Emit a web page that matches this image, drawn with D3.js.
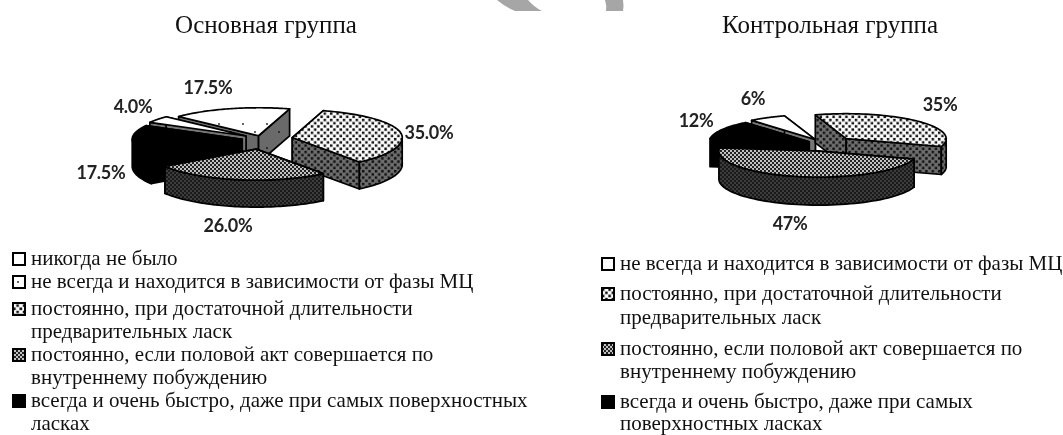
<!DOCTYPE html>
<html><head><meta charset="utf-8">
<script src="https://cdn.jsdelivr.net/npm/d3@7"></script>
<style>
html,body{margin:0;padding:0;background:#fff}
svg{display:block;filter:blur(0.45px)}
.title{font-family:"Liberation Serif",serif;font-size:25px;text-anchor:middle;fill:#111}
.leg{font-family:"Liberation Serif",serif;font-size:21px;fill:#111}
.lab{font-family:Lato,"Open Sans",sans-serif;font-weight:700;font-size:18px;letter-spacing:-0.3px;text-anchor:middle;fill:#222}
</style></head><body>
<svg id="c" width="1063" height="435"></svg>
<script>
const mainValues = [4, 17.5, 35, 26, 17.5];
const mainLabels = ["4.0%", "17.5%", "35.0%", "26.0%", "17.5%"];
const mainStyles = ["plain", "sparse", "dense", "lattice", "solid"];
const mainExplode = [0.18, 0.12, 0.28, 0.33, 0.18];
const controlValues = [6, 35, 47, 12];
const controlLabels = ["6%", "35%", "47%", "12%"];
const controlStyles = ["plain", "dense", "lattice", "solid"];
const controlExplode = [0.2, 0.3, 0.28, 0.18];
const mainLegend = [
  [["никогда не было"], "plain"],
  [["не всегда и находится в зависимости от фазы МЦ"], "sparse"],
  [["постоянно, при достаточной длительности", "предварительных ласк"], "dense"],
  [["постоянно, если половой акт совершается по", "внутреннему побуждению"], "lattice"],
  [["всегда и очень быстро, даже при самых поверхностных", "ласках"], "solid"]
];
const controlLegend = [
  [["не всегда и находится в зависимости от фазы МЦ"], "sparse"],
  [["постоянно, при достаточной длительности", "предварительных ласк"], "dense"],
  [["постоянно, если половой акт совершается по", "внутреннему побуждению"], "lattice"],
  [["всегда и очень быстро, даже при самых", "поверхностных ласках"], "solid"]
];

const svg = d3.select("#c");
const defs = svg.append("defs");
function pat(id, size, bg, fg, pts, r) {
  const p = defs.append("pattern").attr("id", id).attr("patternUnits", "userSpaceOnUse")
    .attr("width", size).attr("height", size);
  p.append("rect").attr("width", size).attr("height", size).attr("fill", bg);
  pts.forEach(d => p.append("rect").attr("x", d[0] - r).attr("y", d[1] - r)
    .attr("width", 2 * r).attr("height", 2 * r).attr("fill", fg));
}
pat("sparse-top", 24, "#fff", "#111", [[3,4],[15,12]], 0.8);
pat("sparse-side", 24, "#6a6a6a", "#111", [[3,4],[15,12]], 0.8);
pat("dense-top", 6.4, "#fff", "#111", [[1.6,1.6],[4.8,4.8]], 1.25);
pat("dense-side", 6.4, "#6e6e6e", "#111", [[1.6,1.6],[4.8,4.8]], 1.25);
pat("lattice-top", 4, "#222", "#fff", [[1,1],[3,3]], 0.85);
pat("lattice-side", 4, "#1a1a1a", "#777", [[1,1],[3,3]], 0.6);
pat("sw-sparse", 12, "#fff", "#111", [[6,6]], 0.8);
pat("sw-dense", 6.4, "#fff", "#111", [[1.6,1.6],[4.8,4.8]], 1.3);
const fills = {
  plain: ["#fff", "#777"],
  sparse: ["url(#sparse-top)", "url(#sparse-side)"],
  dense: ["url(#dense-top)", "url(#dense-side)"],
  lattice: ["url(#lattice-top)", "url(#lattice-side)"],
  solid: ["#000", "#000"]
};
const line = d3.line();

function drawPie(o) {
  const x = d3.scaleLinear().domain([-1, 1]).range([o.cx - o.rx, o.cx + o.rx]);
  // foreshortening: the far half of the tilted disc is flatter than the near half
  const y = d3.scaleLinear().domain([-1, 0, 1]).range([o.cy + o.ryFront, o.cy, o.cy - o.ryBack]);
  const start = o.start * Math.PI / 180;
  const arcs = d3.pie().sort(null).startAngle(start).endAngle(start + 2 * Math.PI)(o.values);
  o.order.forEach(i => {
    const a = arcs[i], mid = (a.startAngle + a.endAngle) / 2, e = o.explode[i];
    const ax = e * Math.sin(mid), ay = e * Math.cos(mid);
    const P = (t, r = 1, dz = 0) => [x(ax + r * Math.sin(t)), y(ay + r * Math.cos(t)) + dz];
    const step = (a.endAngle - a.startAngle) / 60;
    const ts = d3.range(61).map(k => a.startAngle + k * step);
    const [topFill, sideFill] = fills[o.styles[i]];
    const g = svg.append("g").attr("stroke", "#000")
      .attr("stroke-width", 1.7).attr("stroke-linejoin", "round");
    [a.startAngle, a.endAngle].forEach(t => {
      g.append("path").attr("fill", sideFill).attr("d",
        line([P(t, 0), P(t), P(t, 1, o.h), P(t, 0, o.h)]) + "Z");
    });
    const front = ts.filter(t => Math.cos(t) < 0);
    if (front.length > 1) {
      g.append("path").attr("fill", sideFill).attr("d",
        line(front.map(t => P(t)).concat(front.slice().reverse().map(t => P(t, 1, o.h)))) + "Z");
    }
    g.append("path").attr("fill", topFill).attr("d",
      line([P(0, 0)].concat(ts.map(t => P(t)))) + "Z");
  });
  o.labels.forEach((t, i) => svg.append("text").attr("class", "lab")
    .attr("x", o.labelPos[i][0]).attr("y", o.labelPos[i][1]).text(t));
}

function swatch(x, y, style, size) {
  const f = {plain: "#fff", sparse: "url(#sw-sparse)", dense: "url(#sw-dense)", lattice: "url(#lattice-top)", solid: "#000"}[style];
  svg.append("rect").attr("x", x + 1).attr("y", y + 1).attr("width", size - 2).attr("height", size - 2)
    .attr("fill", f).attr("stroke", "#000").attr("stroke-width", 2);
}

function drawLegend(items, sx, tx, baselines, size) {
  let k = 0;
  items.forEach(([lines, style]) => {
    swatch(sx, baselines[k] - size + 1, style, size);
    lines.forEach(t => {
      svg.append("text").attr("class", "leg").attr("x", tx).attr("y", baselines[k]).text(t);
      k++;
    });
  });
}

// watermark remnants at the top edge of the scan
svg.append("path").attr("fill", "#a6a6a6").attr("d", "M497,0 L528,0 Q534,7 542,11 L515,11 Q505,7 497,0Z");
svg.append("path").attr("fill", "#a6a6a6").attr("d", "M605,0 L623,0 Q624,6 623,11 L606,11 Q607,6 605,0Z");

svg.append("text").attr("class", "title").attr("x", 266).attr("y", 33).text("Основная группа");
svg.append("text").attr("class", "title").attr("x", 830).attr("y", 33).text("Контрольная группа");

drawPie({cx: 262, cy: 139, rx: 110, ryBack: 28, ryFront: 31, h: 27, start: -61, values: mainValues, styles: mainStyles,
  explode: mainExplode, labels: mainLabels, order: [1, 0, 4, 2, 3],
  labelPos: [[133, 113], [208, 94], [429, 139], [228, 232], [101, 179]]});
drawPie({cx: 825, cy: 144, rx: 100, ryBack: 25, ryFront: 26, h: 28, start: -39.6, values: controlValues, styles: controlStyles,
  explode: controlExplode, labels: controlLabels, order: [0, 3, 1, 2],
  labelPos: [[753, 105], [940, 111], [790, 230], [696, 127]]});

drawLegend(mainLegend, 12, 31, [265, 288, 315, 338, 361, 384, 407, 430], 14);
drawLegend(controlLegend, 601, 620, [270, 300, 324, 355, 378, 408, 430], 14);
</script></body></html>
